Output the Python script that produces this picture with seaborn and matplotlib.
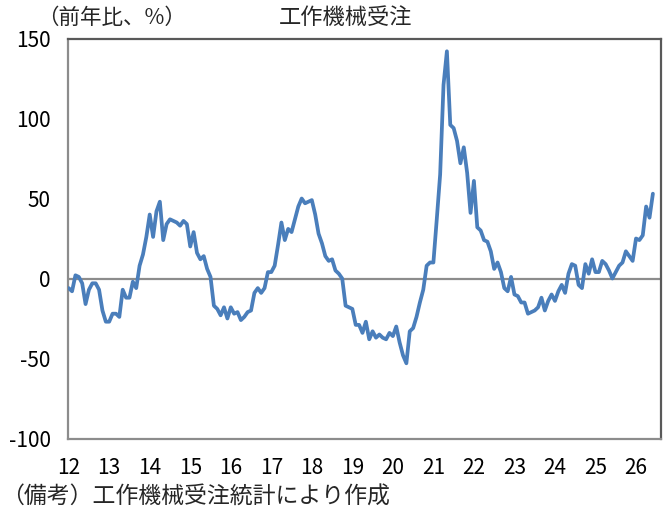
import numpy as np
import pandas as pd
import matplotlib
matplotlib.use("Agg")
import matplotlib.pyplot as plt
import seaborn as sns

# ---- data (monthly YoY %, Jan 2012 - Jun 2026) ----
y2012 = [-6, -8, 2, 1, -3, -16, -7, -3, -3, -7, -20, -27]
y2013 = [-27, -22, -22, -24, -7, -12, -12, -2, -6, 8, 15, 26]
y2014 = [40, 26, 42, 48, 24, 34, 37, 36, 35, 33, 36, 34]
y2015 = [20, 29, 16, 12, 14, 6, 1, -17, -19, -23, -18, -25]
y2016 = [-18, -22, -21, -26, -24, -21, -20, -9, -6, -9, -6, 4]
y2017 = [4, 8, 21, 35, 24, 31, 29, 37, 45, 50, 47, 48]
y2018 = [49, 40, 28, 22, 14, 11, 12, 5, 3, 0, -17, -18]
y2019 = [-19, -29, -29, -34, -27, -38, -33, -37, -35, -37, -38, -34]
y2020 = [-36, -30, -40, -48, -53, -33, -31, -24, -15, -7, 8, 10]
y2021 = [10, 37, 65, 121, 142, 96, 94, 86, 72, 82, 66, 41]
y2022 = [61, 32, 30, 24, 23, 17, 6, 10, 4, -6, -8, 1]
y2023 = [-10, -11, -15, -15, -22, -21, -20, -18, -12, -20, -14, -10]
y2024 = [-14, -8, -4, -9, 3, 9, 8, -4, -6, 9, 3, 12]
y2025 = [4, 4, 11, 9, 5, 0, 4, 8, 10, 17, 14, 11]
y2026 = [25, 24, 27, 45, 38, 53]

year_labels = ["12", "13", "14", "15", "16", "17", "18", "19", "20",
               "21", "22", "23", "24", "25", "26"]
y_ticks = [150, 100, 50, 0, -50, -100]

title = "工作機械受注"
unit_label = "（前年比、%）"
note = "（備考）工作機械受注統計により作成"

values = (y2012 + y2013 + y2014 + y2015 + y2016 + y2017 + y2018 + y2019 +
          y2020 + y2021 + y2022 + y2023 + y2024 + y2025 + y2026)
df = pd.DataFrame({"month": np.arange(len(values)), "yoy": values})

sns.set_theme(style="white")
plt.rcParams["font.family"] = ["Noto Sans CJK JP", "DejaVu Sans"]
plt.rcParams["axes.unicode_minus"] = False

fig = plt.figure(figsize=(6.66, 5.12), dpi=100)
ax = fig.add_axes([68 / 666, 1 - 438.5 / 512, (661 - 68) / 666, 400 / 512])

ax.axhline(0, color="#8c8c8c", lw=1.6, zorder=1)
sns.lineplot(data=df, x="month", y="yoy", ax=ax, color="#4a7ebb",
             linewidth=2.7, zorder=3)

ax.set_xlim(-0.2, 175.4)
ax.set_ylim(-100, 150)
ax.set_xticks(np.arange(len(year_labels)) * 12)
ax.set_xticklabels(year_labels)
ax.set_yticks(y_ticks)
ax.set_yticklabels([str(v) for v in y_ticks])
ax.set_xlabel("")
ax.set_ylabel("")

for side in ["left", "bottom"]:
    ax.spines[side].set_color("#8c8c8c")
    ax.spines[side].set_linewidth(1.6)
for side in ["top", "right"]:
    ax.spines[side].set_color("#595959")
    ax.spines[side].set_linewidth(1.6)
    ax.spines[side].set_visible(True)

ax.tick_params(axis="y", direction="out", length=4.5, width=1.4,
               color="#8c8c8c", labelsize=15, pad=8, labelcolor="#000000")
ax.tick_params(axis="x", length=0, labelsize=15, pad=13, labelcolor="#000000")
ax.grid(False)

fig.text(37 / 666, 1 - 18 / 512, unit_label, fontsize=15.5, va="center", ha="left")
fig.text(346 / 666, 1 - 18 / 512, title, fontsize=16, va="center", ha="center")
fig.text(1 / 666, 1 - 497 / 512, note, fontsize=16.5, va="center", ha="left")

fig.savefig("out.png", dpi=100, facecolor="white")
